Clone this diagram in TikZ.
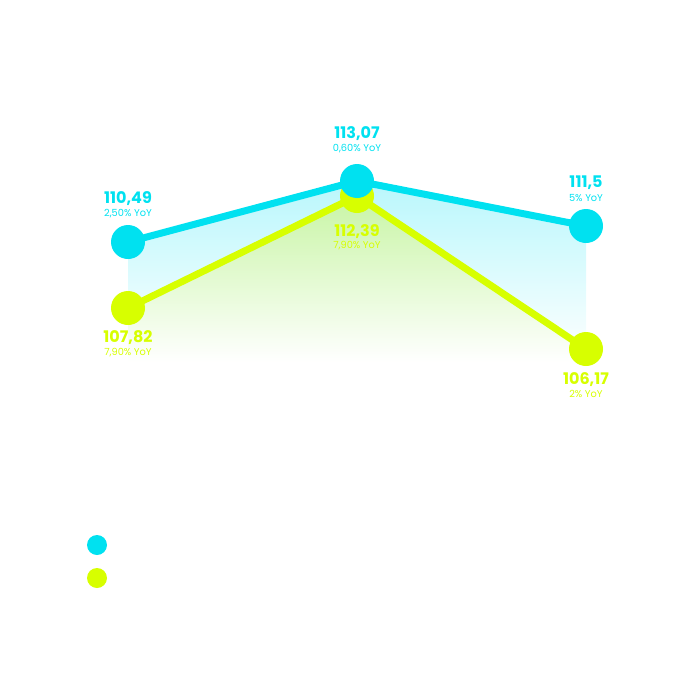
\documentclass[tikz,border=0pt]{standalone}
\usepackage{fontspec}
\setmainfont{Poppins}
\usepackage{tikz}
\definecolor{cyanline}{RGB}{0,225,240}
\definecolor{limeline}{RGB}{215,255,0}
\definecolor{cyanfill}{RGB}{185,247,252}
\definecolor{limefill}{RGB}{200,245,165}
\tikzset{
  dot/.style={circle,inner sep=0pt,minimum size=34pt,fill=#1},
  legdot/.style={circle,inner sep=0pt,minimum size=20pt,fill=#1},
  num/.style={text=#1,font=\fontsize{16}{16}\selectfont\bfseries,inner sep=0pt},
  yoy/.style={text=#1,font=\fontsize{9.8}{10}\selectfont,inner sep=0pt}
}
\begin{document}
\begin{tikzpicture}[x=1pt,y=-1pt]
\useasboundingbox (0,0) rectangle (688,688);
\coordinate (c1) at (128,242);
\coordinate (c2) at (357,181);
\coordinate (c3) at (586,226);
\coordinate (l1) at (128,308);
\coordinate (l2) at (357,196);
\coordinate (l3) at (586,349);
\shade[top color=cyanfill,bottom color=white](c1)--(c2)--(c3)--(586,362)--(128,362)--cycle;
\shade[top color=limefill,bottom color=white](l1)--(l2)--(l3)--(586,362)--(128,362)--cycle;
\draw[limeline,line width=7pt,line join=round](l1)--(l2)--(l3);
\node[dot=limeline](l1dot) at (l1){};
\node[dot=limeline](l2dot) at (l2){};
\node[dot=limeline](l3dot) at (l3){};
\draw[cyanline,line width=7pt,line join=round](c1)--(c2)--(c3);
\node[dot=cyanline](c1dot) at (c1){};
\node[dot=cyanline](c2dot) at (c2){};
\node[dot=cyanline](c3dot) at (c3){};
\node[num=cyanline](c1num) at (128,199){110,49};
\node[yoy=cyanline](c1yoy) at (128,214){2,50\% YoY};
\node[num=cyanline](c2num) at (357,134){113,07};
\node[yoy=cyanline](c2yoy) at (357,149){0,60\% YoY};
\node[num=cyanline](c3num) at (586,183){111,5};
\node[yoy=cyanline](c3yoy) at (586,198){5\% YoY};
\node[num=limeline](l1num) at (128,338){107,82};
\node[yoy=limeline](l1yoy) at (128,353){7,90\% YoY};
\node[num=limeline](l2num) at (357,232){112,39};
\node[yoy=limeline](l2yoy) at (357,246){7,90\% YoY};
\node[num=limeline](l3num) at (586,380){106,17};
\node[yoy=limeline](l3yoy) at (586,394){2\% YoY};
\node[legdot=cyanline](legc) at (97,545){};
\node[legdot=limeline](legl) at (97,578){};
\end{tikzpicture}
\end{document}
